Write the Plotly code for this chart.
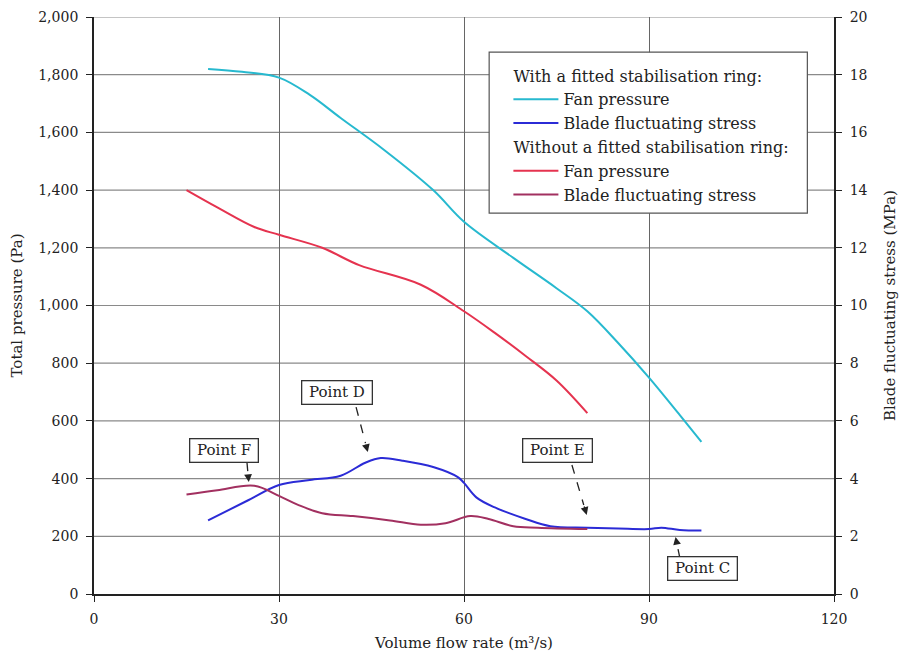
import plotly.graph_objects as go

# Volume flow rate (m³/s) and measured quantities
flow_ring_p = [18.5, 24, 30, 35, 40, 47, 55, 60, 68, 75, 80, 85, 90, 95, 98.5]
pressure_ring = [1820, 1810, 1790, 1730, 1650, 1540, 1400, 1290, 1165, 1060, 980, 870, 750, 620, 527]

flow_noring_p = [15, 20, 26, 30, 37, 43, 53, 60, 65, 70, 75, 80]
pressure_noring = [1400, 1340, 1272, 1245, 1200, 1140, 1072, 980, 905, 825, 740, 627]

flow_ring_s = [18.5, 25, 30, 35, 40, 44, 46.5, 50, 55, 59, 60, 62, 65, 70, 74, 80, 85, 90, 92, 95, 98.5]
stress_ring = [2.55, 3.25, 3.78, 3.95, 4.1, 4.55, 4.71, 4.62, 4.4, 4.05, 3.85, 3.35, 3.0, 2.6, 2.35, 2.3, 2.27, 2.25, 2.3, 2.22, 2.2]

flow_noring_s = [15, 20, 26, 30, 33, 37, 42, 48, 53, 57, 61, 64, 68, 72, 80]
stress_noring = [3.45, 3.6, 3.75, 3.4, 3.1, 2.8, 2.7, 2.55, 2.4, 2.45, 2.7, 2.6, 2.35, 2.3, 2.25]

x_ticks = [0, 30, 60, 90, 120]
y_ticks = list(range(0, 2001, 200))
y2_ticks = list(range(0, 21, 2))

# Callout labels
callout_text = ["Point D", "Point F", "Point E", "Point C"]
callout_tip_x = [44.4, 25.1, 79.9, 94.3]        # m³/s
callout_tip_y = [4.92, 3.88, 2.74, 1.98]        # MPa

# Label placement (box centre and start of the leader, in x / Pa units)
box_x = [39.4, 21.1, 75.2, 98.7]
box_y = [700, 499, 496, 87]
lead_x = [42.5, 24.8, 77.5, 95.0]
lead_y = [648, 457, 447, 125]

FONT = "DejaVu Serif"
C_CYAN = "#27B9CF"
C_BLUE = "#2B2BD6"
C_RED = "#E5334F"
C_MAROON = "#A23060"
INK = "#222222"
NB = "\u00a0"

fig = go.Figure()

fig.add_trace(go.Scatter(
    x=flow_ring_p, y=pressure_ring, mode="lines", name="Fan pressure",
    line=dict(color=C_CYAN, width=2, shape="spline"),
    legendgroup="ring", legendgrouptitle_text="With a fitted stabilisation ring:"))
fig.add_trace(go.Scatter(
    x=flow_ring_s, y=stress_ring, mode="lines", name="Blade fluctuating stress",
    line=dict(color=C_BLUE, width=2, shape="spline"), yaxis="y2",
    legendgroup="ring"))
fig.add_trace(go.Scatter(
    x=flow_noring_p, y=pressure_noring, mode="lines", name="Fan pressure",
    line=dict(color=C_RED, width=2, shape="spline"),
    legendgroup="noring", legendgrouptitle_text="Without a fitted stabilisation ring:"))
fig.add_trace(go.Scatter(
    x=flow_noring_s, y=stress_noring, mode="lines", name="Blade fluctuating stress",
    line=dict(color=C_MAROON, width=2, shape="spline"), yaxis="y2",
    legendgroup="noring"))

shapes = []
annotations = []

# horizontal grid at every pressure tick
for v in y_ticks[1:]:
    shapes.append(dict(type="line", xref="paper", yref="y", x0=0, x1=1, y0=v, y1=v,
                       line=dict(color="#8a8a8a", width=1.2), layer="below"))

# frame behind the legend entries
shapes.append(dict(type="rect", xref="paper", yref="paper",
                   x0=0.534, x1=0.964, y0=0.660, y1=0.939,
                   fillcolor="white", line=dict(color="#555", width=1.2), layer="above"))

for txt, bx, by, lx, ly, tx, ty in zip(callout_text, box_x, box_y, lead_x, lead_y,
                                        callout_tip_x, callout_tip_y):
    tip_pa = ty * 100.0
    annotations.append(dict(
        x=bx, y=by, xref="x", yref="y", text=NB + txt + NB, showarrow=False,
        font=dict(family=FONT, size=15, color=INK),
        bgcolor="white", bordercolor="#333", borderwidth=1.3, borderpad=2))
    # dashed leader, ending a little short of the arrowhead
    ex = lx + (tx - lx) * 0.8
    ey = ly + (tip_pa - ly) * 0.8
    shapes.append(dict(
        type="line", xref="x", yref="y", x0=lx, y0=ly, x1=ex, y1=ey,
        line=dict(color=INK, width=1.3, dash="dash"), layer="above"))
    annotations.append(dict(
        x=tx, y=tip_pa, xref="x", yref="y", text="", showarrow=True,
        axref="x", ayref="y", ax=ex, ay=ey,
        arrowhead=2, arrowsize=1.2, arrowwidth=1.3, arrowcolor=INK))

fig.update_layout(
    width=901, height=656,
    margin=dict(l=94, r=67, t=17, b=62),
    paper_bgcolor="white", plot_bgcolor="rgba(0,0,0,0)",
    font=dict(family=FONT, size=14, color=INK),
    showlegend=True,
    legend=dict(
        x=0.560, y=0.928, xanchor="left", yanchor="top",
        bgcolor="rgba(0,0,0,0)", borderwidth=0,
        font=dict(family=FONT, size=16, color=INK),
        grouptitlefont=dict(family=FONT, size=16, color=INK),
        tracegroupgap=0, itemwidth=45),
    xaxis=dict(
        range=[0, 120], tickvals=x_ticks, ticks="outside", ticklen=6,
        tickcolor=INK, showline=True, linecolor=INK, linewidth=1.8,
        showgrid=True, gridcolor="#666", gridwidth=1.2, zeroline=False,
        ticklabelstandoff=5, automargin=False,
        title=dict(text="Volume flow rate (m³/s)", font=dict(size=15), standoff=12),
        tickfont=dict(size=14)),
    yaxis=dict(
        range=[0, 2000], tickvals=y_ticks, tickformat=",", ticks="outside", ticklen=6,
        tickcolor=INK, showline=True, linecolor=INK, linewidth=1.8,
        showgrid=False, zeroline=False, ticklabelstandoff=5, automargin=False,
        title=dict(text="Total pressure (Pa)", font=dict(size=15), standoff=12),
        tickfont=dict(size=14)),
    yaxis2=dict(
        range=[0, 20], tickvals=y2_ticks, overlaying="y", side="right",
        ticks="outside", ticklen=6, tickcolor=INK,
        showline=True, linecolor=INK, linewidth=1.8,
        showgrid=False, zeroline=False, ticklabelstandoff=5, automargin=False,
        title=dict(text="Blade fluctuating stress (MPa)", font=dict(size=15), standoff=18),
        tickfont=dict(size=14)),
    shapes=shapes,
    annotations=annotations,
)

fig.write_html("out.html")
